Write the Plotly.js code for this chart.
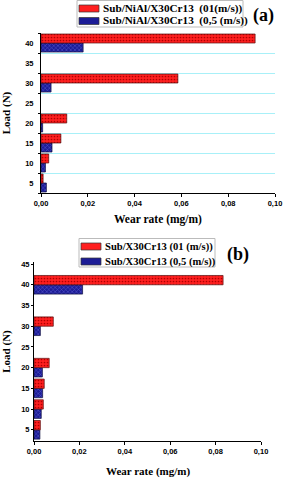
<!DOCTYPE html>
<html>
<head>
<meta charset="utf-8">
<script src="https://cdn.plot.ly/plotly-3.0.1.min.js"></script>
<style>html,body{margin:0;padding:0;background:#fff;}#chart{width:284px;height:480px;}</style>
</head>
<body>
<div id="chart"></div>
<script>
// ---- data ----
var loads = [5, 10, 15, 20, 25, 30, 35, 40];
var loadTickLabels = ['5', '10', '15', '20', '25', '30', '35', '40'];
var loadsB = [5, 10, 15, 20, 25, 30, 35, 40, 45];
var loadTickLabelsB = ['5', '10', '15', '20', '25', '30', '35', '40', '45'];
var wearTicks = [0, 0.02, 0.04, 0.06, 0.08, 0.10];
var wearTickLabels = ['0,00', '0,02', '0,04', '0,06', '0,08', '0,10'];
var xTitle = 'Wear rate (mg/m)';
var yTitle = 'Load (N)';

var nameA1 = 'Sub/NiAl/X30Cr13\u00a0\u00a0(01(m/s))';
var nameA2 = 'Sub/NiAl/X30Cr13\u00a0\u00a0(0,5 (m/s))';
var nameB1 = 'Sub/X30Cr13 (01 (m/s))';
var nameB2 = 'Sub/X30Cr13 (0,5 (m/s))';

// chart (a)
var a_fast = [0.0009, 0.0033, 0.0085, 0.011, null, 0.0585, null, 0.0915];
var a_slow = [0.0023, 0.0019, 0.0047, 0.0007, null, 0.0043, null, 0.018];
// chart (b)
var b_fast = [0.0028, 0.0041, 0.0045, 0.0067, null, 0.0085, null, 0.0833];
var b_slow = [0.0026, 0.0032, 0.0038, 0.0037, null, 0.0028, null, 0.0214];

// ---- styles ----
var RED = '#ff1f1f', BLUE = '#1c1c96';
function serif(size) { return {family: 'Liberation Serif, Times New Roman, serif', weight: 'bold', size: size, color: '#000'}; }
var tickF = {family: 'Liberation Sans, Arial, sans-serif', weight: 'bold', size: 7.5, color: '#000'};
function B(s) { return '<b>' + s + '</b>'; }

function redBar(x, y, xa, ya, name) {
  return {type: 'bar', orientation: 'h', x: x, y: y, xaxis: xa, yaxis: ya, name: name, showlegend: false,
    marker: {color: RED, line: {color: '#5a1010', width: 0.7},
      pattern: {shape: '.', fgcolor: '#b00000', bgcolor: RED, size: 3, solidity: 0.25}}};
}
function blueBar(x, y, xa, ya, name) {
  return {type: 'bar', orientation: 'h', x: x, y: y, xaxis: xa, yaxis: ya, name: name, showlegend: false,
    marker: {color: BLUE, line: {color: '#101040', width: 0.7},
      pattern: {shape: 'x', fgcolor: '#5a5ad0', bgcolor: BLUE, size: 3, solidity: 0.3}}};
}

var data = [
  blueBar(a_slow, loads, 'x', 'y', nameA2),
  redBar(a_fast, loads, 'x', 'y', nameA1),
  blueBar(b_slow, loads, 'x2', 'y2', nameB2),
  redBar(b_fast, loads, 'x2', 'y2', nameB1)
];

function px(x) { return x / 284; }
function py(y) { return 1 - y / 480; }

var minorVals = [2.5, 7.5, 12.5, 17.5, 22.5, 27.5, 32.5, 37.5, 42.5];

var layout = {
  width: 284, height: 480,
  margin: {l: 0, r: 0, t: 0, b: 0},
  paper_bgcolor: '#fff', plot_bgcolor: 'rgba(0,0,0,0)',
  separators: ',.',
  barmode: 'group',
  bargap: 0.1,
  showlegend: false,
  xaxis: {domain: [px(41), px(275)], anchor: 'y', range: [0, 0.1],
    tickvals: wearTicks, ticktext: wearTickLabels, tickfont: tickF,
    showgrid: false, zeroline: false, showline: true, linecolor: '#000', linewidth: 1,
    ticks: 'outside', ticklen: 3, tickcolor: '#000'},
  yaxis: {domain: [py(193), py(33)], anchor: 'x', range: [2.5, 42.5],
    tickvals: loads, ticktext: loadTickLabels, tickfont: tickF,
    showgrid: false, zeroline: false, showline: true, linecolor: '#000', linewidth: 1,
    ticks: 'outside', ticklen: 5, tickcolor: 'rgba(0,0,0,0)',
    minor: {tickvals: minorVals, ticks: 'outside', ticklen: 2, tickcolor: '#000',
      showgrid: true, gridcolor: '#a8f0f8', gridwidth: 1},
    title: {text: B(yTitle), font: serif(11)}},
  xaxis2: {domain: [px(34), px(261)], anchor: 'y2', range: [0, 0.1],
    tickvals: wearTicks, ticktext: wearTickLabels, tickfont: tickF,
    showgrid: false, zeroline: false, showline: true, linecolor: '#000', linewidth: 1,
    ticks: 'outside', ticklen: 3, tickcolor: '#000'},
  yaxis2: {domain: [py(441), py(262)], anchor: 'x2', range: [2.3, 45.5],
    tickvals: loadsB, ticktext: loadTickLabelsB, tickfont: tickF,
    showgrid: false, zeroline: false, showline: true, linecolor: '#000', linewidth: 1,
    ticks: 'outside', ticklen: 2, tickcolor: '#000',
    title: {text: B(yTitle), font: serif(11)}},
  shapes: [
    // legend (a) box and swatches
    {type: 'rect', xref: 'paper', yref: 'paper', x0: px(77), x1: px(243), y0: py(27), y1: py(0.5),
      line: {color: '#bbbbbb', width: 1}, fillcolor: '#fff', layer: 'above'},
    {type: 'rect', xref: 'paper', yref: 'paper', x0: px(79), x1: px(99), y0: py(12), y1: py(5),
      line: {color: '#333', width: 0.7}, fillcolor: RED, layer: 'above'},
    {type: 'rect', xref: 'paper', yref: 'paper', x0: px(79), x1: px(99), y0: py(24.5), y1: py(17.5),
      line: {color: '#333', width: 0.7}, fillcolor: BLUE, layer: 'above'},
    // legend (b) box and swatches
    {type: 'rect', xref: 'paper', yref: 'paper', x0: px(79), x1: px(215), y0: py(267), y1: py(238.5),
      line: {color: '#bbbbbb', width: 1}, fillcolor: '#fff', layer: 'above'},
    {type: 'rect', xref: 'paper', yref: 'paper', x0: px(81), x1: px(101), y0: py(250), y1: py(243),
      line: {color: '#333', width: 0.7}, fillcolor: RED, layer: 'above'},
    {type: 'rect', xref: 'paper', yref: 'paper', x0: px(81), x1: px(101), y0: py(265), y1: py(258),
      line: {color: '#333', width: 0.7}, fillcolor: BLUE, layer: 'above'}
  ],
  annotations: [
    // x axis titles
    {xref: 'paper', yref: 'paper', x: px(158), y: py(220), xanchor: 'center', yanchor: 'middle', showarrow: false,
      text: B(xTitle), font: serif(11.5)},
    {xref: 'paper', yref: 'paper', x: px(147.5), y: py(471), xanchor: 'center', yanchor: 'middle', showarrow: false,
      text: B(xTitle), font: serif(11)},
    // legend texts and panel labels
    {xref: 'paper', yref: 'paper', x: px(101), y: py(8.5), xanchor: 'left', yanchor: 'middle', showarrow: false,
      text: B(nameA1), font: serif(11.2)},
    {xref: 'paper', yref: 'paper', x: px(101), y: py(21), xanchor: 'left', yanchor: 'middle', showarrow: false,
      text: B(nameA2), font: serif(11.2)},
    {xref: 'paper', yref: 'paper', x: px(263), y: py(15), xanchor: 'center', yanchor: 'middle', showarrow: false,
      text: B('(a)'), font: serif(18)},
    {xref: 'paper', yref: 'paper', x: px(103), y: py(246.5), xanchor: 'left', yanchor: 'middle', showarrow: false,
      text: B(nameB1), font: serif(10.6)},
    {xref: 'paper', yref: 'paper', x: px(103), y: py(261.5), xanchor: 'left', yanchor: 'middle', showarrow: false,
      text: B(nameB2), font: serif(10.6)},
    {xref: 'paper', yref: 'paper', x: px(238), y: py(254), xanchor: 'center', yanchor: 'middle', showarrow: false,
      text: B('(b)'), font: serif(18)}
  ]
};

Plotly.newPlot('chart', data, layout, {staticPlot: true, displayModeBar: false});
</script>
</body>
</html>
